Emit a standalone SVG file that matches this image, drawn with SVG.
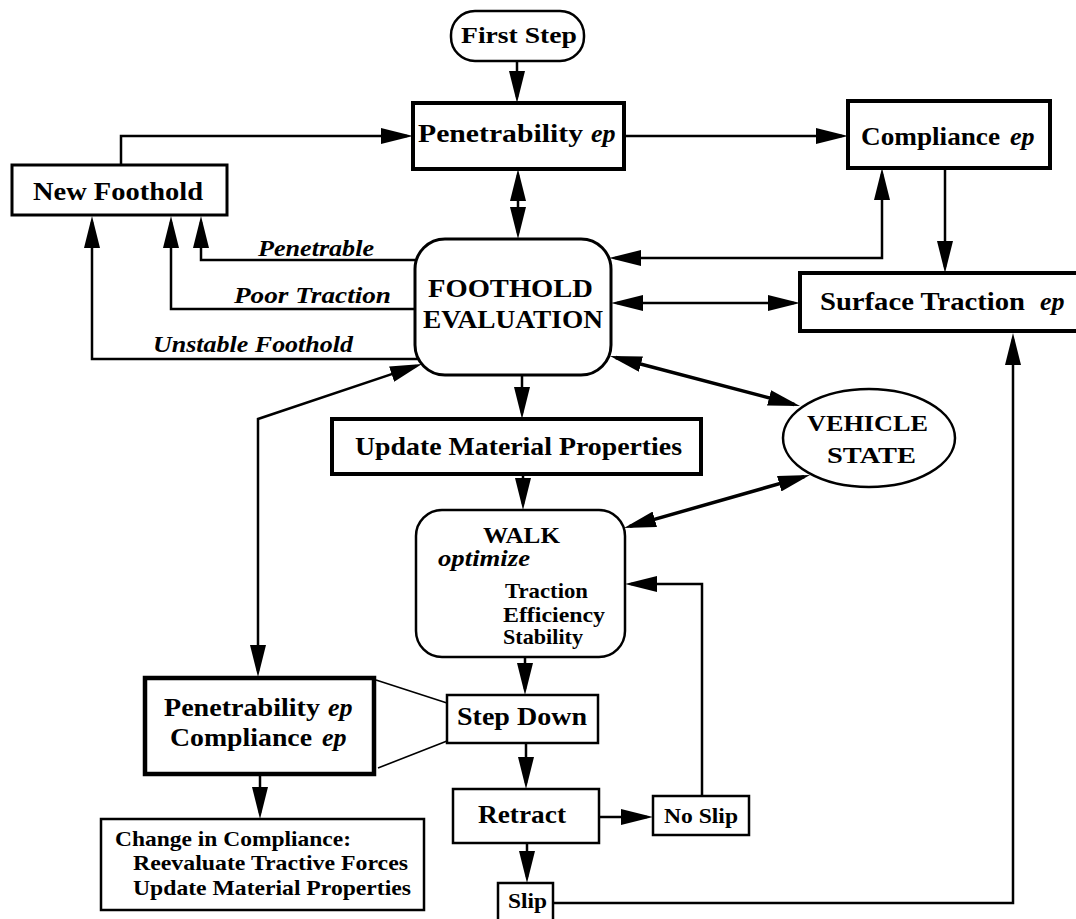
<svg xmlns="http://www.w3.org/2000/svg" width="1076" height="919" viewBox="0 0 1076 919">
<style>
.t{font-family:'Liberation Serif','Times New Roman',serif;font-weight:700;fill:#000}
.i{font-style:italic}
.b{fill:#fff;stroke:#000}
.c{fill:none;stroke:#000;stroke-width:2.5}
.d{fill:none;stroke:#000;stroke-width:3.5}
.th{fill:none;stroke:#000;stroke-width:1.6}
.a{marker-end:url(#ah)}
.aa{marker-start:url(#ah);marker-end:url(#ah)}
</style>
<defs>
<marker id="ah" viewBox="0 0 32 16" markerWidth="32" markerHeight="16" refX="26" refY="8" orient="auto-start-reverse" markerUnits="userSpaceOnUse"><path d="M0,0 L32,8 L0,16 z" fill="#000"/></marker>
</defs>
<rect width="1076" height="919" fill="#fff"/>
<g id="connectors">
<path class="c a" d="M517,61 V97"/>
<path class="c a" d="M121,165 V136 H407"/>
<path class="c a" d="M624,136 H842"/>
<path class="c aa" d="M518,175 V233"/>
<path class="c aa" d="M882,174 V258 H615"/>
<path class="c a" d="M945,168 V267"/>
<path class="c aa" d="M617,303 H794"/>
<path class="d aa" d="M615.8,357.5 L794.2,404.5"/>
<path class="d aa" d="M629.8,526.4 L804.2,476.6"/>
<path class="c aa" d="M258,671 V419 L416.3,365.9"/>
<path class="c a" d="M522,375 V413"/>
<path class="c a" d="M417,260 H201 V222"/>
<path class="c a" d="M415,309 H171 V222"/>
<path class="c a" d="M418,359 H92 V222"/>
<path class="c a" d="M523,474 V504"/>
<path class="c a" d="M525,657 V689"/>
<path class="c a" d="M526,743 V783"/>
<path class="c a" d="M599,817 H647"/>
<path class="c a" d="M527,843 V877"/>
<path class="c a" d="M702,796 V584 H631"/>
<path class="c a" d="M553,903 H1013 V339"/>
<path class="c a" d="M260,774 V813"/>
<path class="th" d="M376,680 L447,703"/>
<path class="th" d="M378,768 L447,741"/>
</g>
<g id="first-step">
<rect class="b" x="451" y="11" width="133" height="50" rx="24" stroke-width="2.5"/>
<text class="t" x="461" y="43" font-size="23" textLength="116" lengthAdjust="spacingAndGlyphs">First Step</text>
</g>
<g id="penetrability-top">
<rect class="b" x="413" y="103" width="211" height="66" stroke-width="4"/>
<text class="t" x="418" y="142" font-size="26" textLength="165" lengthAdjust="spacingAndGlyphs">Penetrability</text>
<text class="t i" x="591" y="142" font-size="26">ep</text>
</g>
<g id="compliance-top">
<rect class="b" x="848" y="101" width="202" height="67" stroke-width="4"/>
<text class="t" x="861" y="145" font-size="26" textLength="139" lengthAdjust="spacingAndGlyphs">Compliance</text>
<text class="t i" x="1010" y="145" font-size="26">ep</text>
</g>
<g id="new-foothold">
<rect class="b" x="12" y="165" width="215" height="50" stroke-width="3"/>
<text class="t" x="33" y="200" font-size="25" textLength="170" lengthAdjust="spacingAndGlyphs">New Foothold</text>
</g>
<g id="labels">
<text class="t i" x="258" y="256" font-size="24" textLength="116" lengthAdjust="spacingAndGlyphs">Penetrable</text>
<text class="t i" x="234" y="303" font-size="24" textLength="157" lengthAdjust="spacingAndGlyphs">Poor Traction</text>
<text class="t i" x="153" y="352" font-size="24" textLength="200" lengthAdjust="spacingAndGlyphs">Unstable Foothold</text>
</g>
<g id="foothold-evaluation">
<rect class="b" x="415" y="239" width="196" height="136" rx="30" stroke-width="3"/>
<text class="t" x="428" y="297" font-size="25" textLength="165" lengthAdjust="spacingAndGlyphs">FOOTHOLD</text>
<text class="t" x="423" y="328" font-size="25" textLength="180" lengthAdjust="spacingAndGlyphs">EVALUATION</text>
</g>
<g id="surface-traction">
<rect class="b" x="800" y="273" width="290" height="58" stroke-width="4"/>
<text class="t" x="820" y="310" font-size="26" textLength="205" lengthAdjust="spacingAndGlyphs">Surface Traction</text>
<text class="t i" x="1040" y="310" font-size="26">ep</text>
</g>
<g id="update-material">
<rect class="b" x="332" y="419" width="369" height="55" stroke-width="4"/>
<text class="t" x="355" y="455" font-size="26" textLength="327" lengthAdjust="spacingAndGlyphs">Update Material Properties</text>
</g>
<g id="vehicle-state">
<ellipse class="b" cx="869" cy="438" rx="86" ry="49" stroke-width="2.5"/>
<text class="t" x="807" y="431" font-size="24" textLength="121" lengthAdjust="spacingAndGlyphs">VEHICLE</text>
<text class="t" x="827" y="463" font-size="24" textLength="89" lengthAdjust="spacingAndGlyphs">STATE</text>
</g>
<g id="walk">
<rect class="b" x="416" y="510" width="209" height="147" rx="26" stroke-width="2.5"/>
<text class="t" x="483" y="543" font-size="24" textLength="77" lengthAdjust="spacingAndGlyphs">WALK</text>
<text class="t i" x="438" y="566" font-size="24" textLength="92" lengthAdjust="spacingAndGlyphs">optimize</text>
<text class="t" x="505" y="598" font-size="21" textLength="83" lengthAdjust="spacingAndGlyphs">Traction</text>
<text class="t" x="503" y="622" font-size="21" textLength="102" lengthAdjust="spacingAndGlyphs">Efficiency</text>
<text class="t" x="503" y="644" font-size="21" textLength="80" lengthAdjust="spacingAndGlyphs">Stability</text>
</g>
<g id="penetrability-compliance">
<rect class="b" x="145" y="678" width="229" height="96" stroke-width="4.5"/>
<text class="t" x="164" y="716" font-size="26" textLength="156" lengthAdjust="spacingAndGlyphs">Penetrability</text>
<text class="t i" x="328" y="716" font-size="26">ep</text>
<text class="t" x="170" y="746" font-size="26" textLength="142" lengthAdjust="spacingAndGlyphs">Compliance</text>
<text class="t i" x="322" y="746" font-size="26">ep</text>
</g>
<g id="step-down">
<rect class="b" x="447" y="695" width="151" height="48" stroke-width="2.5"/>
<text class="t" x="457" y="725" font-size="25" textLength="130" lengthAdjust="spacingAndGlyphs">Step Down</text>
</g>
<g id="retract">
<rect class="b" x="453" y="789" width="146" height="54" stroke-width="2.5"/>
<text class="t" x="478" y="823" font-size="25" textLength="88" lengthAdjust="spacingAndGlyphs">Retract</text>
</g>
<g id="no-slip">
<rect class="b" x="653" y="796" width="96" height="39" stroke-width="2.5"/>
<text class="t" x="664" y="823" font-size="21" textLength="74" lengthAdjust="spacingAndGlyphs">No Slip</text>
</g>
<g id="slip">
<rect class="b" x="498" y="883" width="55" height="42" stroke-width="2.5"/>
<text class="t" x="508" y="908" font-size="21" textLength="39" lengthAdjust="spacingAndGlyphs">Slip</text>
</g>
<g id="change-in-compliance">
<rect class="b" x="101" y="819" width="323" height="91" stroke-width="2.5"/>
<text class="t" x="115" y="846" font-size="21" textLength="236" lengthAdjust="spacingAndGlyphs">Change in Compliance:</text>
<text class="t" x="133" y="870" font-size="21" textLength="275" lengthAdjust="spacingAndGlyphs">Reevaluate Tractive Forces</text>
<text class="t" x="133" y="895" font-size="21" textLength="278" lengthAdjust="spacingAndGlyphs">Update Material Properties</text>
</g>
</svg>
